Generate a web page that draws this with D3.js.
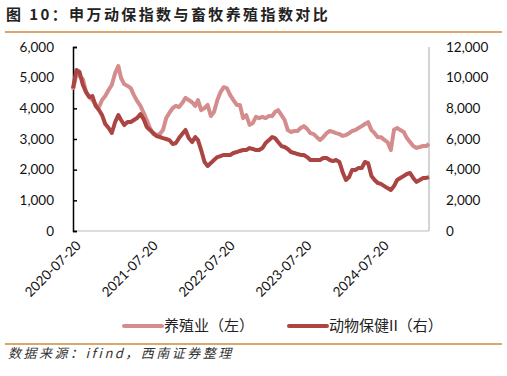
<!DOCTYPE html>
<html>
<head>
<meta charset="utf-8">
<script src="https://cdn.jsdelivr.net/npm/d3@7"></script>
<style>
  body { margin: 0; background: #fff; }
  svg { display: block; }
</style>
</head>
<body>
<div id="chart"></div>
<script>
// readings, roughly twice a month
const dates = [
  '2020-07-20','2020-08-05','2020-08-20','2020-09-05','2020-09-20','2020-10-05','2020-10-20','2020-11-05','2020-11-20','2020-12-05','2020-12-20',
  '2021-01-05','2021-01-20','2021-02-05','2021-02-20','2021-03-05','2021-03-20','2021-04-05','2021-04-20','2021-05-05','2021-05-20','2021-06-05','2021-06-20',
  '2021-07-05','2021-07-20','2021-08-05','2021-08-20','2021-09-05','2021-09-20','2021-10-05','2021-10-20','2021-11-05','2021-11-20','2021-12-05','2021-12-20',
  '2022-01-05','2022-01-20','2022-02-05','2022-02-20','2022-03-05','2022-03-20','2022-04-05','2022-04-20','2022-05-05','2022-05-20','2022-06-05','2022-06-20',
  '2022-07-05','2022-07-20','2022-08-05','2022-08-20','2022-09-05','2022-09-20','2022-10-05','2022-10-20','2022-11-05','2022-11-20','2022-12-05','2022-12-20',
  '2023-01-05','2023-01-20','2023-02-05','2023-02-20','2023-03-05','2023-03-20','2023-04-05','2023-04-20','2023-05-05','2023-05-20','2023-06-05','2023-06-20',
  '2023-07-05','2023-07-20','2023-08-05','2023-08-20','2023-09-05','2023-09-20','2023-10-05','2023-10-20','2023-11-05','2023-11-20','2023-12-05','2023-12-20',
  '2024-01-05','2024-01-20','2024-02-05','2024-02-20','2024-03-05','2024-03-20','2024-04-05','2024-04-20','2024-05-05','2024-05-20','2024-06-05','2024-06-20',
  '2024-07-05','2024-07-20','2024-08-05','2024-08-20','2024-09-05','2024-09-20','2024-10-05','2024-10-20','2024-11-05','2024-11-20','2024-12-05','2024-12-20',
  '2025-01-05','2025-01-20','2025-02-05','2025-02-20','2025-03-05'
];
// 养殖业（左）
const breeding = [
  4600, 5120, 5050, 4950, 4530, 4370, 4270, 4110, 4040, 4270, 4400,
  4600, 4760, 5150, 5380, 4990, 4790, 4730, 4660, 4430, 4240, 4080, 3850,
  3620, 3360, 3160, 3130, 3160, 3290, 3680, 3850, 4010, 4080, 4040, 4170,
  4340, 4270, 4200, 4080, 4270, 3940, 4010, 4110, 3750, 3880, 4270, 4530,
  4690, 4660, 4430, 4270, 4110, 4110, 3680, 3780, 3460, 3520, 3720, 3680,
  3720, 3680, 3750, 3750, 3880, 3940, 3780, 3620, 3290, 3230, 3260, 3260,
  3360, 3420, 3330, 3190, 3160, 3060, 2970, 3060, 3190, 3260, 3230, 3190,
  3160, 3100, 3130, 3190, 3260, 3290, 3360, 3420, 3490, 3550, 3290, 3190,
  3060, 3060, 2970, 2900, 2640, 3300, 3360, 3290, 3230, 3030, 2900, 2770,
  2710, 2740, 2770, 2770, 2840
];
// 动物保健II（右）
const animalHealth = [
  9300, 10500, 10370, 9520, 9060, 8740, 8800, 8150, 7890, 7560, 6980,
  6720, 6390, 7110, 7560, 7240, 6910, 7110, 7110, 7240, 7370, 7630, 7300,
  6780, 6590, 6390, 6190, 6130, 6060, 6000, 5930, 5670, 5740, 6060, 6320,
  6590, 6060, 5800, 6130, 5930, 5280, 4500, 4240, 4430, 4630, 4820, 4890,
  4960, 4960, 4960, 5090, 5150, 5220, 5280, 5280, 5410, 5350, 5280, 5280,
  5410, 5740, 5930, 6130, 6060, 5800, 5540, 5480, 5350, 5150, 5090, 5020,
  4960, 4960, 4820, 4630, 4630, 4630, 4630, 4760, 4760, 4630, 4560, 4630,
  4500, 3850, 3330, 3520, 3980, 3980, 4110, 4110, 4500, 4430, 3590, 3330,
  3130, 3070, 2930, 2800, 2670, 2930, 3330, 3460, 3590, 3720, 3780, 3460,
  3200, 3330, 3460, 3460, 3520
];
const leftTicks = [0, 1000, 2000, 3000, 4000, 5000, 6000];
const rightTicks = [0, 2000, 4000, 6000, 8000, 10000, 12000];
const xTickLabels = ['2020-07-20', '2021-07-20', '2022-07-20', '2023-07-20', '2024-07-20'];
const seriesNames = ['养殖业（左）', '动物保健II（右）'];

const width = 507, height = 376;
const margin = { top: 47, right: 78, bottom: 145, left: 73 };
const cjk = '"Noto Sans CJK SC", sans-serif';
const numFont = 'Lato, "Open Sans", sans-serif';
const lightColor = '#d58c8c';
const darkColor = '#ab4543';
const ruleColor = '#d9a86c';

const parse = d3.timeParse('%Y-%m-%d');

const svg = d3.select('#chart')
  .append('svg')
  .attr('width', width)
  .attr('height', height);

const x = d3.scaleTime()
  .domain([parse(dates[0]), parse(dates[dates.length - 1])])
  .range([margin.left, width - margin.right]);

const yLeft = d3.scaleLinear()
  .domain([0, 6000])
  .range([height - margin.bottom, margin.top]);

const yRight = d3.scaleLinear()
  .domain([0, 12000])
  .range([height - margin.bottom, margin.top]);

// title + rules
svg.append('text')
  .attr('x', 6)
  .attr('y', 20)
  .attr('font-family', cjk)
  .attr('font-size', 15)
  .attr('font-weight', 'bold')
  .attr('letter-spacing', 2.4)
  .attr('fill', '#222')
  .text('图 10：申万动保指数与畜牧养殖指数对比');

svg.append('line')
  .attr('x1', 5).attr('x2', 502)
  .attr('y1', 32).attr('y2', 32)
  .attr('stroke', ruleColor).attr('stroke-width', 2);

svg.append('line')
  .attr('x1', 5).attr('x2', 502)
  .attr('y1', 344).attr('y2', 344)
  .attr('stroke', ruleColor).attr('stroke-width', 2);

// axes
const y0 = height - margin.bottom;

svg.append('line')
  .attr('x1', margin.left).attr('x2', width - margin.right)
  .attr('y1', y0).attr('y2', y0)
  .attr('stroke', '#bbb');

svg.append('line')
  .attr('x1', width - margin.right).attr('x2', width - margin.right)
  .attr('y1', margin.top).attr('y2', y0)
  .attr('stroke', '#aaa');

const leftAxis = svg.append('g')
  .attr('transform', `translate(${margin.left},0)`)
  .call(d3.axisLeft(yLeft).tickValues(leftTicks).tickSize(-4).tickPadding(19)
    .tickFormat(d3.format(',')));
leftAxis.select('.domain').attr('stroke', '#000').attr('stroke-width', 1.5);
leftAxis.selectAll('.tick line').attr('stroke', '#000').attr('stroke-width', 1.5);
leftAxis.selectAll('text')
  .attr('font-family', numFont).attr('font-size', 13.5).attr('fill', '#111');

const rightAxis = svg.append('g')
  .attr('transform', `translate(${width - margin.right},0)`)
  .call(d3.axisRight(yRight).tickValues(rightTicks).tickSize(0).tickPadding(17)
    .tickFormat(d3.format(',')));
rightAxis.select('.domain').remove();
rightAxis.selectAll('text')
  .attr('font-family', numFont).attr('font-size', 13.5).attr('fill', '#111');

const xAxis = svg.append('g')
  .attr('transform', `translate(0,${y0})`)
  .call(d3.axisBottom(x).tickValues(xTickLabels.map(parse)).tickSize(0)
    .tickFormat(d3.timeFormat('%Y-%m-%d')));
xAxis.select('.domain').remove();
xAxis.selectAll('text')
  .attr('font-family', numFont).attr('font-size', 13.5).attr('fill', '#111')
  .attr('text-anchor', 'end')
  .attr('transform', 'translate(5,12) rotate(-45)')
  .attr('dy', '0.35em')
  .attr('y', 0);

// series
const rows = dates.map((d, i) => ({ date: parse(d), a: breeding[i], b: animalHealth[i] }));

svg.append('path')
  .datum(rows)
  .attr('fill', 'none')
  .attr('stroke', lightColor)
  .attr('stroke-width', 4)
  .attr('stroke-linejoin', 'round')
  .attr('d', d3.line().x(d => x(d.date)).y(d => yLeft(d.a)));

svg.append('path')
  .datum(rows)
  .attr('fill', 'none')
  .attr('stroke', darkColor)
  .attr('stroke-width', 4)
  .attr('stroke-linejoin', 'round')
  .attr('d', d3.line().x(d => x(d.date)).y(d => yRight(d.b)));

// legend
const legend = [
  { name: seriesNames[0], color: lightColor, x: 122 },
  { name: seriesNames[1], color: darkColor, x: 287 }
];
const lg = svg.append('g').selectAll('g')
  .data(legend)
  .enter()
  .append('g')
  .attr('transform', d => `translate(${d.x},326)`);

lg.append('line')
  .attr('x1', 2).attr('x2', 40)
  .attr('stroke', d => d.color)
  .attr('stroke-width', 4)
  .attr('stroke-linecap', 'round');

lg.append('text')
  .attr('x', 42)
  .attr('dy', '0.35em')
  .attr('font-family', cjk)
  .attr('font-size', 15)
  .attr('fill', '#222')
  .text(d => d.name);

// source
svg.append('text')
  .attr('x', 8)
  .attr('y', 358)
  .attr('font-family', cjk)
  .attr('font-size', 13)
  .attr('font-style', 'italic')
  .attr('letter-spacing', 2.5)
  .attr('fill', '#333')
  .text('数据来源：ifind，西南证券整理');
</script>
</body>
</html>
